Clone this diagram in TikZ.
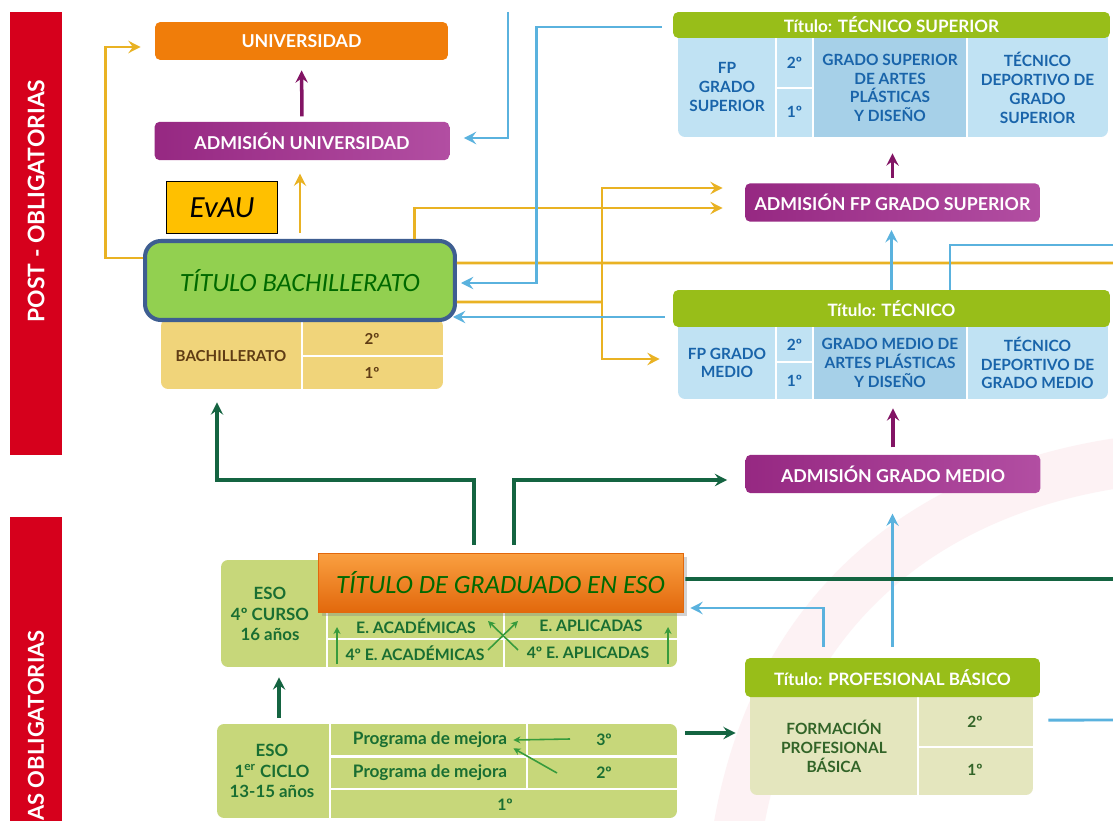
\documentclass[tikz,border=0pt]{standalone}
\usepackage{fontspec}
\setsansfont{Lato}
\newfontfamily\calib{Carlito}
\usetikzlibrary{arrows.meta,shadows}
\definecolor{redbar}{RGB}{214,0,28}
\definecolor{uniorange}{RGB}{240,125,10}
\definecolor{admpurpleL}{RGB}{150,40,130}
\definecolor{admpurpleR}{RGB}{178,78,162}
\definecolor{purplearrow}{RGB}{130,20,100}
\definecolor{headgreen}{RGB}{152,190,25}
\definecolor{tabblue}{RGB}{192,226,243}
\definecolor{tabmid}{RGB}{166,208,232}
\definecolor{tabtext}{RGB}{25,100,170}
\definecolor{bachfill}{RGB}{240,212,122}
\definecolor{bachtext}{RGB}{95,60,20}
\definecolor{esofill}{RGB}{199,215,122}
\definecolor{esotext}{RGB}{25,110,50}
\definecolor{esoarrow}{RGB}{55,155,60}
\definecolor{pbfill}{RGB}{228,230,190}
\definecolor{pbtext}{RGB}{50,100,40}
\definecolor{goldc}{RGB}{233,178,35}
\definecolor{bluec}{RGB}{90,178,222}
\definecolor{dgreen}{RGB}{20,100,65}
\definecolor{titgreen}{RGB}{146,208,80}
\definecolor{titborder}{RGB}{62,94,145}
\definecolor{titgreentext}{RGB}{0,105,0}
\definecolor{evaugold}{RGB}{255,192,0}
\definecolor{esoorangeT}{RGB}{250,160,65}
\definecolor{esoorangeB}{RGB}{226,104,12}
\definecolor{pinkbg}{RGB}{253,242,244}

\begin{document}
\begin{tikzpicture}[x=0.02cm,y=-0.02cm,
  lbl/.style={font=\sffamily\bfseries\fontsize{10.1}{12}\selectfont,text=white,inner sep=0pt,rounded corners=3pt},
  unibox/.style={lbl,fill=uniorange,minimum width=5.86cm,minimum height=0.76cm},
  admbox/.style={lbl,left color=admpurpleL,right color=admpurpleR,minimum width=5.9cm,minimum height=0.77cm},
  headbox/.style={lbl,fill=headgreen,font=\sffamily\bfseries\fontsize{9.7}{12}\selectfont,minimum width=8.74cm},
  tabbody/.style={rounded corners=4pt,inner sep=0pt},
  bluetext/.style={font=\sffamily\bfseries\fontsize{8.8}{10.7}\selectfont,text=tabtext,align=center,inner sep=0pt},
  bachtext/.style={font=\sffamily\bfseries\fontsize{8.6}{10}\selectfont,text=bachtext,inner sep=0pt},
  esotext/.style={font=\sffamily\bfseries\fontsize{9}{11}\selectfont,text=esotext,align=center,inner sep=0pt},
  pbtext/.style={font=\sffamily\bfseries\fontsize{8.8}{10.8}\selectfont,text=pbtext,align=center,inner sep=0pt},
  titbox/.style={rounded corners=9pt,draw=titborder,line width=2.3pt,fill=titgreen,minimum width=6.2cm,minimum height=1.58cm,inner sep=0pt,font=\calib\itshape\fontsize{15}{18}\selectfont,text=titgreentext},
  evaubox/.style={draw=black,line width=1pt,fill=evaugold,minimum width=2.22cm,minimum height=1.04cm,inner sep=0pt,font=\calib\itshape\fontsize{17.5}{20}\selectfont},
  titesobox/.style={top color=esoorangeT,bottom color=esoorangeB,draw=esoorangeB,drop shadow={opacity=0.35},minimum width=7.3cm,minimum height=1.18cm,inner sep=0pt,font=\calib\itshape\fontsize{15}{18}\selectfont,text=titgreentext},
  sep/.style={draw=white,line width=1.3pt},
  tip/.style={-{Stealth[length=7pt,width=7pt,inset=2.5pt]}},
  goldline/.style={draw=goldc,line width=1.7pt},
  goldarr/.style={goldline,tip},
  blueline/.style={draw=bluec,line width=1.7pt},
  bluearr/.style={blueline,tip},
  greenline/.style={draw=dgreen,line width=2pt},
  greenarr/.style={greenline,tip},
  purplearr/.style={draw=purplearrow,line width=2pt,tip},
  smallarr/.style={draw=esoarrow,line width=0.9pt,-{Stealth[length=4pt,width=4pt]}}]
\useasboundingbox (0,0) rectangle (1113,821);
\fill[white] (0,0) rectangle (1113,821);
\draw[line width=1cm,pinkbg] (738,830) .. controls (775,610) and (925,490) .. (1125,462);
\fill[redbar] (10,12) rectangle (62,455);
\fill[redbar] (10,517) rectangle (62,821);
\node[rotate=90,text=white,font=\sffamily\bfseries\fontsize{13}{15}\selectfont] (post) at (36,201) {POST - OBLIGATORIAS};
\node[rotate=90,anchor=east,text=white,font=\sffamily\bfseries\fontsize{12.5}{15}\selectfont] (oblig) at (36,624) {AS OBLIGATORIAS};

\node[unibox] (uni) at (301.5,41) {UNIVERSIDAD};
\node[admbox] (admuni) at (302,141) {ADMISIÓN UNIVERSIDAD};
\node[evaubox] (evau) at (222,207.5) {EvAU};

\node[tabbody,fill=bachfill,minimum width=5.64cm,minimum height=1.4cm] (bachtab) at (302,354) {};
\draw[sep] (302,322) -- (302,389) (302,356) -- (443,356);
\node[bachtext] (bachname) at (231,356) {BACHILLERATO};
\node[bachtext] (bach2) at (372,339) {2º};
\node[bachtext] (bach1) at (372,373) {1º};
\node[titbox] (titbach) at (300,280.5) {TÍTULO BACHILLERATO};

\node[tabbody,fill=tabblue,minimum width=8.6cm,minimum height=2.14cm] (tsbody) at (893,83.5) {};
\fill[tabmid] (813,38) rectangle (967,137);
\draw[sep] (776,38) -- (776,137) (813,38) -- (813,137) (967,38) -- (967,137) (776,88) -- (813,88);
\node[headbox,minimum height=0.52cm] (tshead) at (891.5,25) {Título: TÉCNICO SUPERIOR};
\node[bluetext] (tsfp) at (727,87) {FP\\GRADO\\SUPERIOR};
\node[bluetext] (ts2) at (794.5,63) {2º};
\node[bluetext] (ts1) at (794.5,112) {1º};
\node[bluetext] (tsartes) at (890,88) {GRADO SUPERIOR\\DE ARTES\\PLÁSTICAS\\Y DISEÑO};
\node[bluetext] (tsdep) at (1037.5,88) {TÉCNICO\\DEPORTIVO DE\\GRADO\\SUPERIOR};

\node[admbox] (admfpgs) at (892.5,202.5) {ADMISIÓN FP GRADO SUPERIOR};

\node[tabbody,fill=tabblue,minimum width=8.6cm,minimum height=1.6cm] (tbody) at (893,359) {};
\fill[tabmid] (813,327) rectangle (967,399);
\draw[sep] (776,327) -- (776,399) (813,327) -- (813,399) (967,327) -- (967,399) (776,362) -- (813,362);
\node[headbox,minimum height=0.74cm] (thead) at (891.5,308.5) {Título: TÉCNICO};
\node[bluetext] (tfp) at (727,363) {FP GRADO\\MEDIO};
\node[bluetext] (t2) at (794.5,345) {2º};
\node[bluetext] (t1) at (794.5,381) {1º};
\node[bluetext] (tartes) at (890,363) {GRADO MEDIO DE\\ARTES PLÁSTICAS\\Y DISEÑO};
\node[bluetext] (tdep) at (1037.5,363) {TÉCNICO\\DEPORTIVO DE\\GRADO MEDIO};

\node[admbox] (admgm) at (893,474) {ADMISIÓN GRADO MEDIO};

\node[tabbody,fill=esofill,minimum width=9.12cm,minimum height=2.14cm] (eso4) at (449,613.5) {};
\draw[sep] (327,560) -- (327,667) (327,639) -- (677,639) (504,612) -- (504,667);
\node[esotext,font=\sffamily\bfseries\fontsize{9.6}{11.5}\selectfont] (eso4name) at (270,614) {ESO\\4º CURSO\\16 años};
\node[esotext] (acad) at (416,626) {E. ACADÉMICAS};
\node[esotext] (apl) at (591,626) {E. APLICADAS};
\node[esotext] (acad4) at (415,653) {4º E. ACADÉMICAS};
\node[esotext] (apl4) at (588,653) {4º E. APLICADAS};
\node[titesobox] (titeso) at (500.5,582.5) {TÍTULO DE GRADUADO EN ESO};

\node[tabbody,fill=esofill,minimum width=9.2cm,minimum height=1.88cm] (eso1) at (447,771) {};
\draw[sep] (330,724) -- (330,818) (330,756.5) -- (677,756.5) (330,789) -- (677,789) (527,724) -- (527,789);
\node[esotext,font=\sffamily\bfseries\fontsize{9.6}{11.5}\selectfont] (eso1name) at (272,771) {ESO\\1\textsuperscript{er} CICLO\\13-15 años};
\node[esotext,font=\sffamily\bfseries\fontsize{9.8}{11}\selectfont] (pm1) at (430,740) {Programa de mejora};
\node[esotext,font=\sffamily\bfseries\fontsize{9.8}{11}\selectfont] (pm2) at (430,773) {Programa de mejora};
\node[esotext] (e3) at (604,740) {3º};
\node[esotext] (e2) at (604,773) {2º};
\node[esotext] (e1) at (505,805) {1º};

\node[tabbody,fill=pbfill,minimum width=5.66cm,minimum height=2.1cm] (pbbody) at (891.5,742.5) {};
\draw[sep] (918,697) -- (918,795) (918,747) -- (1033,747);
\node[headbox,minimum width=5.9cm,minimum height=0.78cm] (pbhead) at (892.5,677.5) {Título: PROFESIONAL BÁSICO};
\node[pbtext] (pbname) at (834,746) {FORMACIÓN\\PROFESIONAL\\BÁSICA};
\node[pbtext] (pb2) at (975,722) {2º};
\node[pbtext] (pb1) at (975,770) {1º};

\coordinate (btop) at (508,12);
\coordinate (rgold) at (1113,263);
\coordinate (rblue) at (1113,245);
\coordinate (rblue2) at (1113,720);
\coordinate (rgreen) at (1113,579);
\coordinate (split) at (602,302);
\coordinate (gturn) at (217,480);
\coordinate (up1s) at (337,664);
\coordinate (up1e) at (337,627);
\coordinate (up2s) at (668,664);
\coordinate (up2e) at (668,627);
\coordinate (xa1) at (488,650);
\coordinate (xa2) at (518,621);
\coordinate (xb1) at (518,650);
\coordinate (xb2) at (488,621);
\coordinate (pm3s) at (570,739);
\coordinate (pm2s) at (557,773);

\draw[purplearr,shorten <=0.1cm,shorten >=0.2cm] (admuni.north) -- (uni.south);
\draw[purplearr,shorten <=0.1cm,shorten >=0.32cm] (admfpgs.north) -- (admfpgs.north |- tsbody.south);
\draw[purplearr,shorten <=0.14cm,shorten >=0.18cm] (admgm.north) -- (admgm.north |- tbody.south);

\draw[goldarr,shorten <=0.12cm,shorten >=0.26cm] (titbach.north) -- (titbach.north |- admuni.south);
\draw[goldarr,shorten >=0.28cm] ([yshift=0.45cm]titbach.west) -- ++(-38,0) |- ([yshift=-0.12cm]uni.west);
\draw[goldarr,shorten >=0.44cm] ([xshift=2.3cm]titbach.north) |- ([yshift=-0.11cm]admfpgs.west);
\draw[goldline] ([yshift=-0.43cm]titbach.east) -- (split);
\draw[goldarr,shorten >=0.44cm] (split) |- ([yshift=0.29cm]admfpgs.west);
\draw[goldarr,shorten >=0.36cm] (split) |- (tbody.west);
\draw[goldline] ([yshift=0.35cm]titbach.east) -- (rgold);

\draw[bluearr,shorten >=0.28cm] (btop) |- ([yshift=0.06cm]admuni.east);
\draw[bluearr,shorten >=0.08cm] ([xshift=-0.22cm,yshift=-0.04cm]tshead.west) -- ++(-125,0) |- ([yshift=-0.05cm]titbach.east);
\draw[bluearr,shorten >=0.08cm] ([xshift=-0.16cm,yshift=-0.17cm]thead.west) -- ([xshift=-0.16cm,yshift=-0.17cm]thead.west -| titbach.east);
\draw[blueline] ([xshift=1.17cm]thead.north) |- (rblue);
\draw[bluearr,shorten >=0.16cm] (thead.north) -- (thead.north |- admfpgs.south);
\draw[bluearr,shorten <=0.22cm,shorten >=0.4cm] (pbhead.north) -- (pbhead.north |- admgm.south);
\draw[bluearr,shorten <=0.22cm,shorten >=0.14cm] ([xshift=-1.39cm]pbhead.north) |- ([yshift=-0.51cm]titeso.east);
\draw[blueline] ([xshift=0.3cm,yshift=0.45cm]pbbody.east) -- (rblue2);

\draw[greenarr,shorten <=0.16cm,shorten >=0.26cm] ([xshift=-0.53cm]titeso.north) |- (gturn) -- (gturn |- bachtab.south);
\draw[greenarr,shorten <=0.16cm,shorten >=0.36cm] ([xshift=0.27cm]titeso.north) |- ([yshift=-0.12cm]admgm.west);
\draw[greenline] ([xshift=0.04cm,yshift=0.07cm]titeso.east) -- (rgreen);
\draw[greenarr,shorten <=0.12cm,shorten >=0.2cm] ([xshift=-3.36cm]eso1.north) -- ([xshift=-3.36cm]eso1.north |- eso4.south);
\draw[greenarr,shorten <=0.16cm,shorten >=0.28cm] ([yshift=0.76cm]eso1.east) -- ([yshift=0.76cm]eso1.east -| pbbody.west);

\draw[smallarr] (up1s) -- (up1e);
\draw[smallarr] (up2s) -- (up2e);
\draw[smallarr] (xa1) -- (xa2);
\draw[smallarr] (xb1) -- (xb2);
\draw[smallarr] (pm3s) -- ([xshift=0.12cm]pm1.east);
\draw[smallarr] (pm2s) -- ([xshift=0.12cm]pm1.south east);
\end{tikzpicture}
\end{document}
